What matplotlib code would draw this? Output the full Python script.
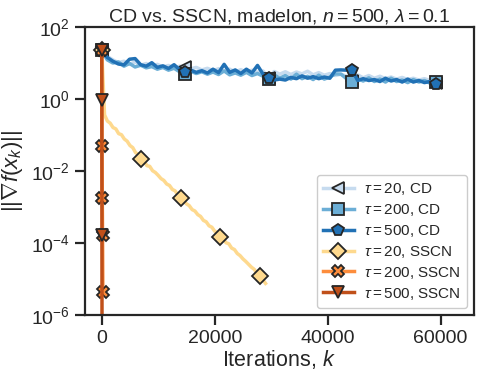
import numpy as np
import matplotlib
matplotlib.use("Agg")
import matplotlib.pyplot as plt

# ---------------- data ----------------
cd_k = np.linspace(0, 59100, 61)

cd20_g = [22, 15, 12, 10, 11, 9.0, 10.5, 8.5, 9.5, 8.0, 9.0, 7.6, 8.4, 7.2, 8.0,
          7.6, 6.8, 7.4, 6.3, 7.0, 6.0, 6.8, 5.8, 6.6, 5.6, 6.4, 5.5, 6.2, 5.4, 5.9,
          3.7, 5.7, 4.8, 5.6, 4.7, 5.5, 4.9, 5.8, 4.6, 5.3, 4.5, 5.0, 4.4, 4.8, 4.2,
          3.1, 4.6, 3.8, 4.4, 3.7, 4.2, 3.6, 4.0, 3.5, 3.9, 3.4, 3.7, 3.3, 3.6, 3.2,
          2.8]

cd200_g = [22, 12, 9.8, 10.5, 8.0, 9.5, 7.6, 8.5, 7.2, 7.8, 6.6, 7.4, 6.2, 7.0, 5.6,
           4.9, 5.8, 5.0, 5.6, 4.8, 5.5, 4.7, 5.9, 4.6, 5.2, 4.5, 5.4, 4.4, 5.0, 4.2,
           3.5, 4.6, 3.7, 4.4, 3.5, 4.8, 3.6, 4.2, 3.4, 4.5, 3.5, 4.0, 4.9, 4.8, 3.6,
           2.95, 3.6, 3.1, 3.8, 3.0, 3.5, 2.9, 3.7, 3.0, 3.3, 2.8, 3.4, 2.9, 3.2, 2.7,
           2.85]

cd500_g = [22, 14, 11, 9.2, 8.7, 12.5, 13, 8.8, 8.0, 10.0, 7.4, 8.2, 6.9, 8.8, 6.4,
           5.6, 6.2, 5.4, 6.0, 5.2, 6.6, 5.3, 9.0, 5.4, 6.3, 5.0, 6.6, 5.2, 8.4, 4.8,
           3.8, 3.3, 3.5, 3.3, 3.9, 3.6, 4.3, 3.7, 4.1, 3.6, 4.0, 3.7, 6.2, 6.3, 6.2,
           6.3, 3.2, 3.6, 3.2, 3.4, 3.0, 3.7, 3.1, 3.4, 2.9, 3.5, 2.9, 3.2, 2.8, 3.0,
           2.5]

sscn20_k = np.arange(0, 29001, 500)
sscn20_g = [22, 0.355, 0.240, 0.209, 0.158, 0.145, 0.107, 0.100, 0.0759, 0.0661,
            0.0501, 0.0437, 0.0316, 0.0282, 0.0211, 0.0186, 0.0138, 0.0132, 0.0100,
            0.00891, 0.00741, 0.00603, 0.00537, 0.00427, 0.00389, 0.00302, 0.00275,
            0.00209, 0.00170, 0.00151, 0.00120, 0.00107, 8.32e-4, 7.59e-4, 6.03e-4,
            5.37e-4, 4.17e-4, 3.80e-4, 2.95e-4, 2.69e-4, 2.09e-4, 1.91e-4, 1.48e-4,
            1.32e-4, 1.00e-4, 9.33e-5, 7.08e-5, 6.46e-5, 5.01e-5, 4.37e-5, 3.55e-5,
            3.02e-5, 2.51e-5, 2.09e-5, 1.82e-5, 1.41e-5, 1.20e-5, 9.55e-6, 7.41e-6]

sscn200_k = [0, 25, 50, 75, 100, 125, 150, 175, 200]
sscn200_g = [22, 1.5, 0.05, 0.009, 0.0017, 5e-4, 1.6e-4, 2.5e-5, 4.4e-6]

sscn500_k = [0, 10, 20, 30, 40, 50, 60, 70, 80]
sscn500_g = [22, 5.0, 0.9, 0.012, 1.6e-4, 2e-6, 3e-8, 5e-10, 1e-11]

labels = [r"$\tau = 20$, CD", r"$\tau = 200$, CD", r"$\tau = 500$, CD",
          r"$\tau = 20$, SSCN", r"$\tau = 200$, SSCN", r"$\tau = 500$, SSCN"]

# ---------------- style ----------------
dark = "#262626"
plt.rcParams.update({
    "font.family": ["Liberation Sans", "DejaVu Sans"],
    "mathtext.fontset": "custom",
    "mathtext.rm": "Liberation Sans",
    "mathtext.it": "Liberation Sans:italic",
    "mathtext.bf": "Liberation Sans:bold",
    "text.color": dark,
    "axes.labelcolor": dark,
    "xtick.color": dark,
    "ytick.color": dark,
    "axes.edgecolor": dark,
})

fig = plt.figure(figsize=(4.81, 3.76), dpi=100)
ax = fig.add_axes([0.1767, 0.163, 0.8087, 0.766])

series = [
    (cd_k, cd20_g, "#c6dbef", "<", 15),
    (cd_k, cd200_g, "#6baed6", "s", 15),
    (cd_k, cd500_g, "#2171b5", "p", 15),
    (sscn20_k, sscn20_g, "#fed98e", "D", 14),
    (sscn200_k, sscn200_g, "#fd8d3c", "X", 2),
    (sscn500_k, sscn500_g, "#c0501a", "v", 2),
]

for (k, g, c, m, me), lab in zip(series, labels):
    ax.plot(k, g, color=c, lw=2.5, marker=m, markevery=me, markersize=8.5,
            markerfacecolor=c, markeredgecolor=dark, markeredgewidth=1.3,
            label=lab)

ax.set_yscale("log")
ax.set_ylim(1e-6, 1e2)
ax.set_xlim(-2960, 65900)
ax.set_yticks([1e-6, 1e-4, 1e-2, 1e0, 1e2])
ax.yaxis.set_minor_locator(matplotlib.ticker.NullLocator())
ax.set_xticks([0, 20000, 40000, 60000])

for s in ax.spines.values():
    s.set_linewidth(1.6)
ax.tick_params(axis="both", which="major", length=7, width=1.6, labelsize=14, pad=4)

ax.set_xlabel(r"Iterations, $k$", fontsize=15.5, labelpad=1)
ax.set_ylabel(r"$||\nabla f(x_k)||$", fontsize=16, labelpad=4)
ax.set_title(r"CD vs. SSCN, madelon, $n = 500$, $\lambda = 0.1$", fontsize=14, pad=4)

leg = ax.legend(loc="lower right", fontsize=11, frameon=True, fancybox=True,
                edgecolor="#cccccc", framealpha=1.0, borderaxespad=0.45,
                labelspacing=0.32, handlelength=2.0, handletextpad=0.7,
                borderpad=0.4)
leg.get_frame().set_linewidth(1.0)

fig.savefig("out.png", dpi=100)
